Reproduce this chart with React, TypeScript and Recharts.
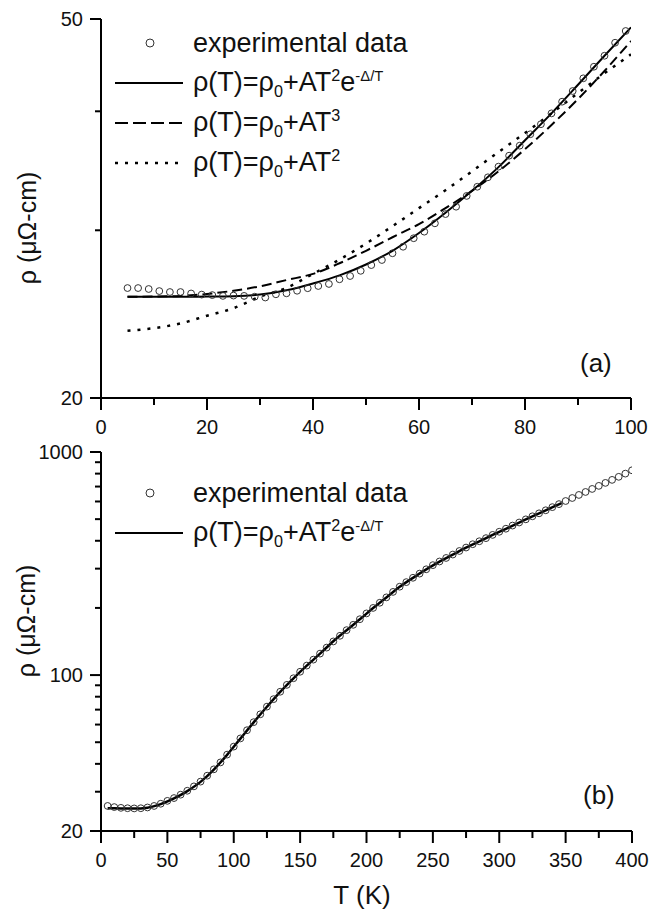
import React from "react"
import { ComposedChart, Legend, Line, Scatter, XAxis, YAxis } from "recharts"

const FONT = '"Liberation Sans", Arial, Helvetica, sans-serif'
const AXIS = { stroke: "#000", strokeWidth: 2 }

// ---- panel (a): 0-100 K ----
const aExpT = [5, 7, 9, 11, 13, 15, 17, 19, 21, 23, 25, 27, 29, 31, 33, 35, 37, 39, 41, 43, 45, 47, 49, 51, 53, 55, 57, 59, 61, 63, 65, 67, 69, 71, 73, 75, 77, 79, 81, 83, 85, 87, 89, 91, 93, 95, 97, 99]
const aExpRho = [26.09, 26.09, 26.03, 25.9, 25.84, 25.84, 25.75, 25.68, 25.65, 25.6, 25.62, 25.6, 25.55, 25.5, 25.7, 25.76, 25.92, 26.08, 26.22, 26.35, 26.65, 26.86, 27.2, 27.58, 27.92, 28.38, 28.83, 29.43, 29.9, 30.51, 31.2, 31.76, 32.6, 33.33, 34.1, 34.99, 35.93, 36.81, 37.84, 38.77, 39.8, 40.94, 42.01, 43.32, 44.55, 45.75, 47.21, 48.57]

const aFitT = [5, 10, 15, 20, 25, 30, 35, 40, 45, 50, 55, 60, 65, 70, 75, 80, 85, 90, 95, 100]
const aFitGap = [25.55, 25.55, 25.55, 25.56, 25.58, 25.68, 25.95, 26.38, 26.9, 27.62, 28.55, 29.8, 31.3, 33.0, 34.95, 37.3, 39.8, 42.65, 45.75, 49.0]
const aFitT3 = [25.55, 25.56, 25.6, 25.72, 25.92, 26.2, 26.6, 27.0, 27.7, 28.55, 29.5, 30.45, 31.65, 33.0, 34.6, 36.5, 38.7, 41.2, 44.1, 47.4]
const aFitT2 = [23.53, 23.68, 23.95, 24.4, 24.85, 25.55, 26.1, 27.0, 27.95, 29.05, 30.3, 31.65, 33.05, 34.6, 36.25, 37.95, 39.8, 41.8, 43.85, 45.9]

const aXTicks = [0, 10, 20, 30, 40, 50, 60, 70, 80, 90, 100]
const aXLabels = [0, 20, 40, 60, 80, 100]
const aYTicks = [20, 30, 40, 50]
const aYLabels = [20, 50]

// ---- panel (b): 0-400 K ----
const bExpT = [5, 10, 15, 20, 25, 30, 35, 40, 45, 50, 55, 60, 65, 70, 75, 80, 85, 90, 95, 100, 105, 110, 115, 120, 125, 130, 135, 140, 145, 150, 155, 160, 165, 170, 175, 180, 185, 190, 195, 200, 205, 210, 215, 220, 225, 230, 235, 240, 245, 250, 255, 260, 265, 270, 275, 280, 285, 290, 295, 300, 305, 310, 315, 320, 325, 330, 335, 340, 345, 350, 355, 360, 365, 370, 375, 380, 385, 390, 395, 400]
const bExpRho = [25.9, 25.6, 25.4, 25.3, 25.25, 25.3, 25.5, 25.9, 26.5, 27.3, 28.1, 29.1, 30.3, 31.7, 33.3, 35.4, 37.8, 40.6, 44.0, 47.8, 52.0, 56.6, 61.5, 66.7, 72.2, 78.0, 84.2, 90.4, 96.8, 103.5, 110.3, 117.3, 124.8, 132.8, 141.5, 150, 159, 168, 178, 189, 200, 211, 223, 236, 249, 261, 273, 285, 298, 311, 323, 335, 347, 360, 373, 386, 398, 411, 425, 439, 453, 468, 483, 499, 515, 531, 548, 566, 584, 603, 622, 642, 662, 683, 705, 727, 750, 774, 800, 828]

const bFitT = [5, 15, 25, 35, 45, 55, 65, 75, 85, 95, 105, 115, 125, 135, 145, 155, 165, 175, 185, 195, 205, 215, 225, 235, 245, 255, 265, 275, 285, 295, 305, 315, 325, 335, 347]
const bFitRho = [25.3, 25.25, 25.2, 25.45, 26.4, 28.0, 30.2, 33.2, 37.7, 43.9, 51.9, 61.4, 72.1, 84.1, 96.7, 110.2, 124.7, 141.8, 158.8, 177.8, 199.8, 222.8, 248.6, 272.8, 297.6, 322.6, 346.6, 372.6, 397.6, 424.6, 452.6, 482.6, 514.6, 547.6, 590]

const bXTicks = [0, 25, 50, 75, 100, 125, 150, 175, 200, 225, 250, 275, 300, 325, 350, 375, 400]
const bXLabels = [0, 50, 100, 150, 200, 250, 300, 350, 400]
const bYTicks = [20, 30, 40, 50, 60, 70, 80, 90, 100, 200, 300, 400, 500, 600, 700, 800, 900, 1000]
const bYLabels = [20, 100, 1000]

const zip = (xs: number[], ys: number[]) => xs.map((T, i) => ({ T, rho: ys[i] }))

function OpenCircle(props: any) {
  return <circle cx={props.cx} cy={props.cy} r={3.4} fill="none" stroke="#333" strokeWidth={1} />
}

function XTick(props: any) {
  const { x, y, payload, labels } = props
  const major = labels.includes(payload.value)
  return (
    <g>
      <line x1={x} x2={x} y1={y} y2={y + (major ? 12 : 7)} stroke="#000" strokeWidth={2} />
      {major && (
        <text x={x} y={y + 36} textAnchor="middle" fontSize={20} fontFamily={FONT} fill="#111">
          {payload.value}
        </text>
      )}
    </g>
  )
}

function YTick(props: any) {
  const { x, y, payload, labels } = props
  const major = labels.includes(payload.value)
  return (
    <g>
      <line x1={x - (major ? 11 : 6)} x2={x} y1={y} y2={y} stroke="#000" strokeWidth={2} />
      {major && (
        <text x={x - 18} y={y + 7} textAnchor="end" fontSize={20} fontFamily={FONT} fill="#111">
          {payload.value}
        </text>
      )}
    </g>
  )
}

const Formula = () => (
  <span>
    ρ(T)=ρ<sub style={{ fontSize: "60%" }}>0</sub>+AT<sup style={{ fontSize: "60%" }}>2</sup>e
    <sup style={{ fontSize: "55%" }}>-Δ/T</sup>
  </span>
)

type Row = { kind: "circle" | "solid" | "dashed" | "dotted"; text: React.ReactNode }

function LegendBox({ rows }: { rows: Row[] }) {
  return (
    <div style={{ fontFamily: FONT, fontSize: 27, color: "#111", lineHeight: 1 }}>
      {rows.map((r, i) => (
        <div key={i} style={{ display: "flex", alignItems: "center", height: 40 }}>
          <svg width={78} height={40}>
            {r.kind === "circle" ? (
              <circle cx={40} cy={20} r={4} fill="none" stroke="#333" strokeWidth={1} />
            ) : (
              <line
                x1={5}
                x2={73}
                y1={20}
                y2={20}
                stroke="#000"
                strokeWidth={r.kind === "dotted" ? 2.5 : 2}
                strokeDasharray={r.kind === "dashed" ? "13 5" : r.kind === "dotted" ? "3 7" : undefined}
              />
            )}
          </svg>
          <span style={{ marginLeft: 5, whiteSpace: "nowrap" }}>{r.text}</span>
        </div>
      ))}
    </div>
  )
}

const yTitle = (x: number, y: number) => () => (
  <text transform={`translate(${x},${y}) rotate(-90)`} textAnchor="middle" fontSize={25} fontFamily={FONT} fill="#111">
    ρ (μΩ-cm)
  </text>
)

function PanelA() {
  return (
    <ComposedChart width={660} height={440} margin={{ top: 19, right: 29, bottom: 12, left: 41 }}>
      <XAxis
        type="number"
        dataKey="T"
        domain={[0, 100]}
        allowDataOverflow
        ticks={aXTicks}
        interval={0}
        height={30}
        tickSize={0}
        tickMargin={0}
        tickLine={false}
        axisLine={AXIS}
        tick={(p: any) => <XTick {...p} labels={aXLabels} />}
        label={() => (
          <text x={580} y={372} fontSize={26} fontFamily={FONT} fill="#111">
            (a)
          </text>
        )}
      />
      <XAxis xAxisId="top" orientation="top" type="number" domain={[0, 100]} allowDataOverflow height={0} tick={false} tickLine={false} axisLine={AXIS} />
      <YAxis
        type="number"
        scale="log"
        domain={[20, 50]}
        allowDataOverflow
        ticks={aYTicks}
        interval={0}
        width={60}
        tickSize={0}
        tickMargin={0}
        tickLine={false}
        axisLine={AXIS}
        tick={(p: any) => <YTick {...p} labels={aYLabels} />}
        label={yTitle(36, 228)}
      />
      <YAxis yAxisId="right" orientation="right" type="number" scale="log" domain={[20, 50]} allowDataOverflow width={0} tick={false} tickLine={false} axisLine={AXIS} />
      <Line data={zip(aFitT, aFitT2)} dataKey="rho" type="monotone" stroke="#000" strokeWidth={2.5} strokeDasharray="3 7" dot={false} isAnimationActive={false} />
      <Line data={zip(aFitT, aFitT3)} dataKey="rho" type="monotone" stroke="#000" strokeWidth={2} strokeDasharray="10 5" dot={false} isAnimationActive={false} />
      <Line data={zip(aFitT, aFitGap)} dataKey="rho" type="monotone" stroke="#000" strokeWidth={2} dot={false} isAnimationActive={false} />
      <Scatter data={zip(aExpT, aExpRho)} dataKey="rho" shape={OpenCircle} isAnimationActive={false} />
      <Legend
        layout="vertical"
        align="center"
        verticalAlign="middle"
        wrapperStyle={{ left: 110, top: 23, width: "auto" }}
        content={() => (
          <LegendBox
            rows={[
              { kind: "circle", text: "experimental data" },
              { kind: "solid", text: <Formula /> },
              { kind: "dashed", text: <span>ρ(T)=ρ<sub style={{ fontSize: "60%" }}>0</sub>+AT<sup style={{ fontSize: "60%" }}>3</sup></span> },
              { kind: "dotted", text: <span>ρ(T)=ρ<sub style={{ fontSize: "60%" }}>0</sub>+AT<sup style={{ fontSize: "60%" }}>2</sup></span> },
            ]}
          />
        )}
      />
    </ComposedChart>
  )
}

function PanelB() {
  return (
    <ComposedChart width={660} height={475} margin={{ top: 12, right: 28, bottom: 54, left: 41 }}>
      <XAxis
        type="number"
        dataKey="T"
        domain={[0, 400]}
        allowDataOverflow
        ticks={bXTicks}
        interval={0}
        height={30}
        tickSize={0}
        tickMargin={0}
        tickLine={false}
        axisLine={AXIS}
        tick={(p: any) => <XTick {...p} labels={bXLabels} />}
        label={() => (
          <g>
            <text x={362} y={464} textAnchor="middle" fontSize={26} fontFamily={FONT} fill="#111">
              T (K)
            </text>
            <text x={583} y={364} fontSize={26} fontFamily={FONT} fill="#111">
              (b)
            </text>
          </g>
        )}
      />
      <XAxis xAxisId="top" orientation="top" type="number" domain={[0, 400]} allowDataOverflow height={0} tick={false} tickLine={false} axisLine={AXIS} />
      <YAxis
        type="number"
        scale="log"
        domain={[20, 1000]}
        allowDataOverflow
        ticks={bYTicks}
        interval={0}
        width={60}
        tickSize={0}
        tickMargin={0}
        tickLine={false}
        axisLine={AXIS}
        tick={(p: any) => <YTick {...p} labels={bYLabels} />}
        label={yTitle(35, 181)}
      />
      <YAxis yAxisId="right" orientation="right" type="number" scale="log" domain={[20, 1000]} allowDataOverflow width={0} tick={false} tickLine={false} axisLine={AXIS} />
      <Line data={zip(bFitT, bFitRho)} dataKey="rho" type="monotone" stroke="#000" strokeWidth={2.5} dot={false} isAnimationActive={false} />
      <Scatter data={zip(bExpT, bExpRho)} dataKey="rho" shape={OpenCircle} isAnimationActive={false} />
      <Legend
        layout="vertical"
        align="center"
        verticalAlign="middle"
        wrapperStyle={{ left: 110, top: 33, width: "auto" }}
        content={() => (
          <LegendBox
            rows={[
              { kind: "circle", text: "experimental data" },
              { kind: "solid", text: <Formula /> },
            ]}
          />
        )}
      />
    </ComposedChart>
  )
}

export default function App() {
  return (
    <div style={{ position: "absolute", left: 0, top: 0, width: 660, height: 915, background: "#fff" }}>
      <div style={{ position: "absolute", left: 0, top: 0 }}>
        <PanelA />
      </div>
      <div style={{ position: "absolute", left: 0, top: 440 }}>
        <PanelB />
      </div>
    </div>
  )
}
